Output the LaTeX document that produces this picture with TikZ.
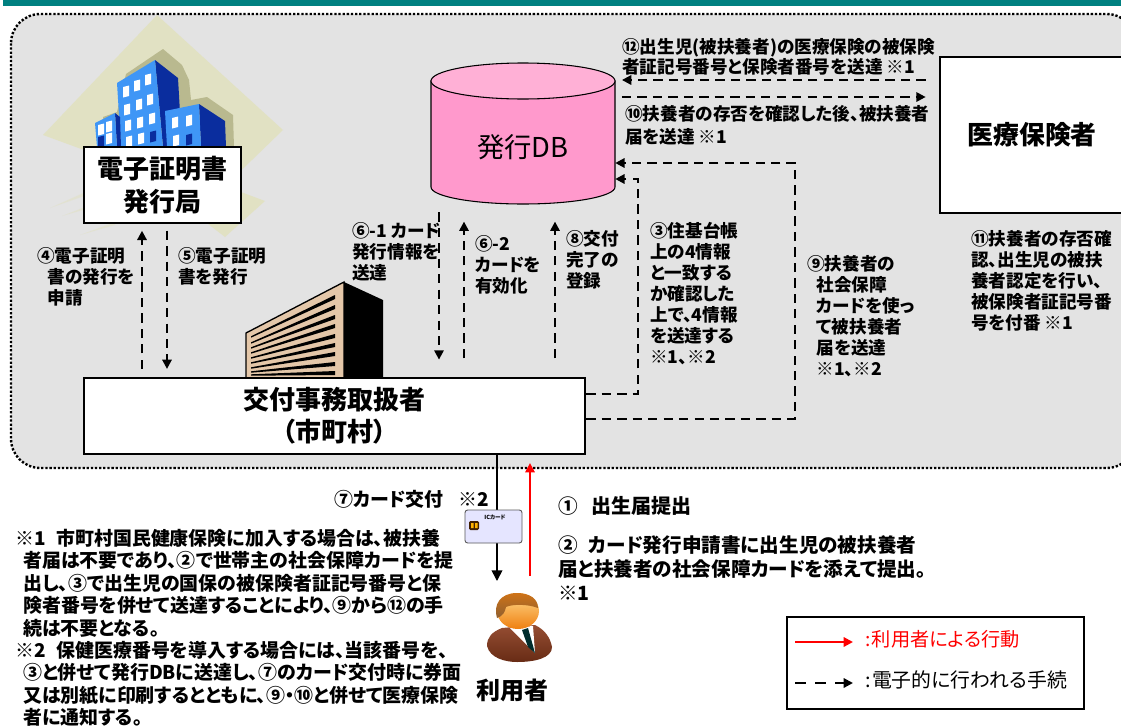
\documentclass[tikz,border=0pt]{standalone}
\usepackage{fontspec}
\newfontfamily\jp[RawFeature=+palt]{Noto Sans CJK JP}
\usetikzlibrary{arrows.meta,calc}
\definecolor{teal1}{HTML}{008080}
\definecolor{panel}{HTML}{E3E3E3}
\definecolor{pinkbody}{HTML}{FF99CC}
\definecolor{pinktop}{HTML}{FFB0D6}
\definecolor{sand}{HTML}{E1E1C3}
\definecolor{sandd}{HTML}{B9B98F}
\definecolor{blue1}{HTML}{3F96F6}
\definecolor{blue2}{HTML}{0A2D9E}
\definecolor{tan1}{HTML}{E4C7A9}
\definecolor{suit}{HTML}{8A3A1C}
\tikzset{
  whitebox/.style={draw=black,fill=white,line width=1.6pt,inner sep=0pt,align=center},
  lbl/.style={font=\jp\bfseries\fontsize{13.2}{#1}\selectfont,align=left,inner sep=0pt,anchor=north west,text=black},
  lbl/.default=15.8,
  lblbig/.style={font=\jp\bfseries\fontsize{14.2}{#1}\selectfont,align=left,inner sep=0pt,anchor=north west,text=black},
  lblhuge/.style={font=\jp\bfseries\fontsize{14.7}{#1}\selectfont,align=left,inner sep=0pt,anchor=north west,text=black},
  flow/.style={draw=black,line width=1.6pt,dash pattern=on 7pt off 4.6pt,-{Triangle[length=7pt,width=7pt]}},
  legendflow/.style={flow,dash pattern=on 8pt off 7pt},
  solidblack/.style={draw=black,line width=1.2pt,-{Triangle[length=8pt,width=8pt]}},
  solidred/.style={draw=red,line width=1.6pt,-{Triangle[length=7pt,width=7pt]}},
  winw/.style={fill=white},
  wind/.style={fill=blue2}
}
\newcommand{\winrow}[3]{\fill[#3] (#1-3,#2-5) -- (#1+3,#2-6.5) -- (#1+3,#2+4) -- (#1-3,#2+5.5) -- cycle;}
\begin{document}
\begin{tikzpicture}[x=0.75pt,y=-0.75pt]
\useasboundingbox (0,0) rectangle (1121,725);
\clip (0,0) rectangle (1121,725);
\fill[white] (0,0) rectangle (1121,725);
\fill[teal1] (3,0) rectangle (1121,6);
\draw[fill=panel,draw=black,line width=1.8pt,dash pattern=on 1.7pt off 1.4pt,rounded corners=22pt] (11,14) rectangle (1136,468);
% issuer illustration
\fill[sand] (157,15) -- (283,130) -- (190,220) -- (84,150) -- (43,135) -- cycle;
\fill[sand] (225,186) -- (265,201) -- (225,237) -- (190,210) -- cycle;
\fill[sand,opacity=.55] (50,208) -- (90,190) -- (90,194) -- cycle;
\fill[sand,opacity=.55] (62,216) -- (90,205) -- (90,208) -- cycle;
\fill[sand,opacity=.55] (80,235) -- (115,222) -- (115,225) -- cycle;
\fill[sandd] (126,74) -- (163,49) -- (182,65) -- (189,80) -- (191,100) -- (207,97) -- (233,115) -- (234,147) -- (103,147) -- (103,117) -- (117,112) -- cycle;
\fill[blue2] (155,60) -- (178,78) -- (182,147) -- (163,147) -- cycle;
\fill[blue1] (117,83) -- (155,60) -- (163,147) -- (121,147) -- cycle;
\fill[blue2] (115,113) -- (120,117) -- (121,147) -- (117,147) -- cycle;
\fill[blue1] (95,123) -- (115,113) -- (117,147) -- (97,147) -- cycle;
\fill[blue2] (199,104) -- (225,121) -- (226,147) -- (201,147) -- cycle;
\fill[blue1] (165,111) -- (199,104) -- (201,147) -- (167,147) -- cycle;
\winrow{126}{92}{winw}\winrow{137}{86}{winw}\winrow{148}{80}{winw}
\winrow{127}{110}{winw}\winrow{139}{105}{winw}\winrow{150}{100}{winw}
\winrow{128}{126}{winw}\winrow{140}{123}{winw}\winrow{152}{119}{winw}
\winrow{129}{142}{winw}\winrow{141}{139}{winw}\winrow{153}{137}{wind}
\winrow{175}{123}{winw}\winrow{189}{121}{winw}
\winrow{176}{141}{winw}\winrow{189}{140}{wind}
\winrow{101}{130}{winw}\winrow{109}{127}{winw}
\winrow{101}{142}{wind}\winrow{109}{139}{winw}
% municipal office illustration
\draw[fill=tan1,draw=black,line width=1pt] (246,333) -- (344,282) -- (344,378) -- (246,378) -- cycle;
\fill[black] (344,282) -- (383,300) -- (383,378) -- (344,378) -- cycle;
\foreach \yl/\yr in {337/297,343/307,348/317,353/326,358/336,363/345,368/354,372/364,375/373}
  \fill[black] (251,\yl-.7) -- (335,\yr-2) -- (335,\yr+2) -- (251,\yl+.7) -- cycle;
% database cylinder
\draw[fill=pinkbody,draw=black,line width=.8pt] (431,81) -- (431,187) arc[start angle=180,end angle=0,x radius=92,y radius=17] -- (615,81) -- cycle;
\draw[fill=pinktop,draw=black,line width=.8pt] (523,81) ellipse[x radius=92,y radius=18];
% main nodes
\node[whitebox,minimum width=118pt,minimum height=57pt,font=\jp\bfseries\fontsize{19.5}{24.5}\selectfont] (issuer) at (162.5,185) {電子証明書\\発行局};
\node[whitebox,minimum width=376pt,minimum height=57pt,font=\jp\bfseries\fontsize{19.5}{24}\selectfont] (muni) at (334.5,416) {交付事務取扱者\\（市町村）};
\node[inner sep=0pt,minimum width=138pt,minimum height=85.5pt,font=\jp\fontsize{20.5}{24}\selectfont] (db) at (523,147) {発行DB};
\node[whitebox,minimum width=150pt,minimum height=117pt,anchor=north west,font=\jp\bfseries\fontsize{19.4}{22}\selectfont] (insurer) at (939,56) {\hspace*{-6pt}医療保険者\hspace*{6pt}};
\coordinate (c4) at (142,300);
\coordinate (c5) at (167,300);
\coordinate (c61) at (439,300);
\coordinate (c62) at (464,300);
\coordinate (c8) at (555,300);
\coordinate (c3a) at (638,394);
\coordinate (c3b) at (638,179);
\coordinate (c9a) at (795,419);
\coordinate (c9b) at (795,163);
\coordinate (c12) at (700,80);
\coordinate (c10) at (700,97);
\coordinate (c7) at (497,520);
\coordinate (c1) at (530,520);
\coordinate (userfoot) at (500,581);
\coordinate (userred) at (530,576);
% electronic flows
\draw[flow,shorten <=6pt,shorten >=5pt] (muni.north -| c4) -- (issuer.south -| c4);
\draw[flow,shorten <=5pt,shorten >=6pt] (issuer.south -| c5) -- (muni.north -| c5);
\draw[flow,shorten >=13pt] (db.south -| c61)++(0,8) -- (muni.north -| c61);
\draw[flow,shorten <=14pt,shorten >=13pt] (muni.north -| c62) -- (db.south -| c62);
\draw[flow,shorten <=14pt,shorten >=13pt] (muni.north -| c8) -- (db.south -| c8);
\draw[flow] (muni.east |- c3a) -- (c3a) -- (c3b) -- (db.east |- c3b);
\draw[flow] (muni.east |- c9a) -- (c9a) -- (c9b) -- (db.east |- c9b);
\draw[flow,shorten <=10pt,shorten >=5pt] (insurer.west |- c12) -- (db.east |- c12);
\draw[flow,shorten <=5pt,shorten >=10pt] (db.east |- c10) -- (insurer.west |- c10);
% user connectors
\draw[solidblack] (muni.south -| c7) -- (c7 |- userfoot);
\draw[solidred,shorten >=6pt] (userred) -- (muni.south -| c1);
% card
\draw[fill=blue!10,draw=gray!70!black,line width=.7pt,rounded corners=2pt] (465,510) rectangle (522,543);
\fill[black!75!orange,rounded corners=1pt] (469,521) rectangle (479,530);
\fill[orange!60!yellow] (471,523) rectangle (473.5,528) (475,523) rectangle (477.5,528);
\node[inner sep=0pt,font=\jp\bfseries\fontsize{4.2}{5}\selectfont] (cardtext) at (495,517) {ICカード};
% user figure
\shade[top color=suit!90!white,bottom color=suit!75!black] (502,628) .. controls (492,632) and (487,637) .. (487,646) .. controls (490,658) and (505,662) .. (517,662) .. controls (535,662) and (552,658) .. (552,647) .. controls (550,637) and (545,630) .. (535,625) -- cycle;
\fill[white] (510,628) -- (533,626) -- (535,653) -- cycle;
\fill[black!65!teal] (522,630) -- (528,628) -- (535,653) -- (528,647) -- cycle;
\shade[top color=yellow!35!orange!45!white,bottom color=orange!75!brown] (518,611) ellipse[x radius=21,y radius=18];
\shade[top color=brown!40!orange!90!black,bottom color=brown!75!black] (497,618) .. controls (493,605) and (500,593) .. (517,593) .. controls (530,593) and (538,599) .. (538,608) .. controls (528,604) and (512,604) .. (506,607) .. controls (505,612) and (503,616) .. (497,618) -- cycle;
\node[inner sep=0pt,font=\jp\bfseries\fontsize{18}{20}\selectfont] (user) at (512,690) {利用者};
% labels
\node[lbl=15] (t12) at (622,38) {⑫出生児(被扶養者)の医療保険の被保険\\者証記号番号と保険者番号を送達 ※1};
\node[lbl=17] (t10) at (625,105) {⑩扶養者の存否を確認した後、被扶養者\\届を送達 ※1};
\node[lbl] (t4) at (37,247) {④電子証明\\\hspace*{8pt}書の発行を\\\hspace*{8pt}申請};
\node[lbl] (t5) at (178,247) {⑤電子証明\\書を発行};
\node[lbl] (t61) at (352,222) {⑥-1 カード\\発行情報を\\送達};
\node[lbl] (t62) at (475,235) {⑥-2\\カードを\\有効化};
\node[lbl] (t8) at (566,230) {⑧交付\\完了の\\登録};
\node[lbl] (t3) at (650,222) {③住基台帳\\上の4情報\\と一致する\\か確認した\\上で、4情報\\を送達する\\※1、※2};
\node[lbl] (t9) at (807,255) {⑨扶養者の\\\hspace*{7pt}社会保障\\\hspace*{7pt}カードを使っ\\\hspace*{7pt}て被扶養者\\\hspace*{7pt}届を送達\\\hspace*{7pt}※1、※2};
\node[lbl] (t11) at (971,230) {⑪扶養者の存否確\\認、出生児の被扶\\養者認定を行い、\\被保険者証記号番\\号を付番 ※1};
\node[lblbig=16] (t7) at (334,490) {⑦カード交付\hspace{11pt}※2};
\node[lblhuge=18] (t1) at (558,496) {①\hspace{10pt}{\fontsize{15}{18}\selectfont 出生届提出}};
\node[lblhuge=18] (t2) at (558,535) {②\hspace{8pt}カード発行申請書に出生児の被扶養者\\届と扶養者の社会保障カードを添えて提出。\\※1};
\node[lblbig=16.8] (n1) at (15,529) {※1\hspace{8pt}市町村国民健康保険に加入する場合は、被扶養\\\hspace*{6pt}者届は不要であり、②で世帯主の社会保障カードを提\\\hspace*{6pt}出し、③で出生児の国保の被保険者証記号番号と保\\\hspace*{6pt}険者番号を併せて送達することにより、⑨から⑫の手\\\hspace*{6pt}続は不要となる。\\※2\hspace{8pt}保健医療番号を導入する場合には、当該番号を、\\\hspace*{6pt}③と併せて発行DBに送達し、⑦のカード交付時に券面\\\hspace*{6pt}又は別紙に印刷するとともに、⑨・⑩と併せて医療保険\\\hspace*{6pt}者に通知する。};
% legend
\node[draw=black,line width=1.5pt,inner sep=0pt,minimum width=223pt,minimum height=69pt] (legend) at (935.5,663) {};
\coordinate (lg1) at (795,642);
\coordinate (lg2) at (853,642);
\coordinate (lg3) at (795,683);
\coordinate (lg4) at (853,683);
\draw[solidred] (lg1) -- (lg2);
\draw[legendflow] (lg3) -- (lg4);
\node[inner sep=0pt,anchor=west,text=red,font=\jp\fontsize{14.4}{16}\selectfont] (lr) at (865,639) {:\hspace{1pt}利用者による行動};
\node[inner sep=0pt,anchor=west,font=\jp\fontsize{14.9}{16}\selectfont] (lb) at (865,680) {:\hspace{1pt}電子的に行われる手続};
\end{tikzpicture}
\end{document}
